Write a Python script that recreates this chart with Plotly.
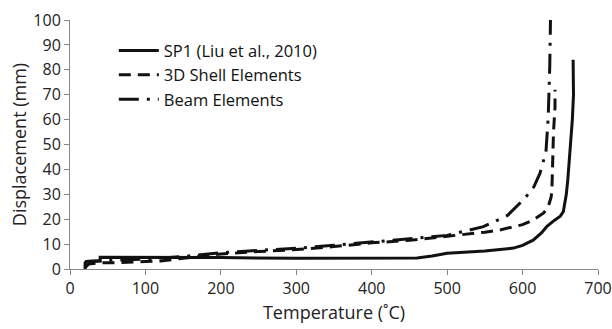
import plotly.graph_objects as go

sp1_T = [20, 20, 22, 40, 40, 100, 200, 300, 400, 460, 480, 500, 550, 588, 600, 614, 625, 632, 642, 650, 654, 656, 658, 660, 663, 666, 667.5, 667]
sp1_y = [0, 2.5, 3, 3.2, 4.7, 4.7, 4.6, 4.3, 4.2, 4.4, 5.2, 6.3, 7.2, 8.4, 9.5, 11.6, 14.5, 17, 19.5, 21.2, 23, 26, 30, 36, 47.8, 60, 70, 84]

shell_T = [20, 25, 40, 60, 100, 120, 150, 200, 250, 300, 350, 400, 450, 500, 550, 570, 600, 614, 628, 634, 638, 639, 640, 641, 643, 643]
shell_y = [0.5, 2, 2.5, 2.5, 3, 3.2, 4.3, 6, 7, 7.8, 9, 10.5, 11.5, 13, 14.8, 15.7, 17.8, 19.7, 22.5, 25, 29, 33, 45, 55, 65, 72]

beam_T = [20, 22, 40, 100, 150, 200, 250, 300, 350, 400, 450, 500, 548, 580, 603, 615, 623, 631, 634, 635.5, 636, 637]
beam_y = [1, 3, 3.3, 4, 5, 6.5, 7.5, 8.3, 9.5, 10.8, 12, 13.5, 17, 21.5, 28.4, 33, 38.4, 47, 61, 72, 81, 100]

x_ticks = [0, 100, 200, 300, 400, 500, 600, 700]
y_ticks = [0, 10, 20, 30, 40, 50, 60, 70, 80, 90, 100]

FONT = "Open Sans"
fig = go.Figure()
fig.add_trace(go.Scatter(x=sp1_T, y=sp1_y, mode="lines", name="SP1 (Liu et al., 2010)",
                         line=dict(color="#111", width=3, dash="solid")))
fig.add_trace(go.Scatter(x=shell_T, y=shell_y, mode="lines", name="3D Shell Elements",
                         line=dict(color="#111", width=3, dash="12px,7px")))
fig.add_trace(go.Scatter(x=beam_T, y=beam_y, mode="lines", name="Beam Elements", cliponaxis=False,
                         line=dict(color="#111", width=3, dash="20px,8px,3px,8px")))

fig.update_layout(
    width=612, height=329,
    margin=dict(l=70, r=14, t=20, b=60, autoexpand=False),
    paper_bgcolor="white", plot_bgcolor="white",
    font=dict(family=FONT, size=16, color="#222"),
    showlegend=True,
    legend=dict(x=0.083, y=0.947, xanchor="left", yanchor="top",
                bgcolor="rgba(0,0,0,0)", font=dict(size=16.5, color="#111"),
                tracegroupgap=0, itemwidth=40),
    xaxis=dict(range=[0, 700], tickvals=x_ticks, ticks="outside", ticklen=5,
               tickcolor="#888", showline=True, linecolor="#888", linewidth=1,
               showgrid=False, zeroline=False, automargin=False,
               tickfont=dict(size=16, color="#222"),
               title=dict(text="Temperature (˚C)", font=dict(size=18, color="#222"), standoff=8)),
    yaxis=dict(range=[0, 100], tickvals=y_ticks, ticks="outside", ticklen=5,
               tickcolor="#888", showline=True, linecolor="#888", linewidth=1,
               showgrid=False, zeroline=False, automargin=False,
               tickfont=dict(size=16, color="#222"),
               title=dict(text="Displacement (mm)", font=dict(size=18, color="#222"), standoff=2)),
)
fig.write_html("out.html")
